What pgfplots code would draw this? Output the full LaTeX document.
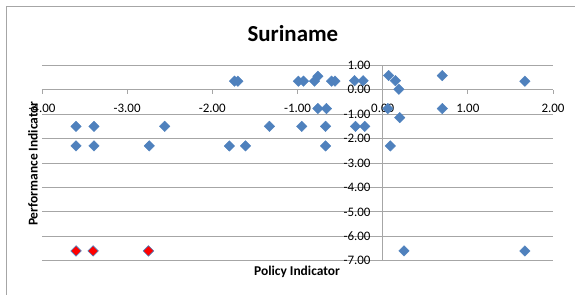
\documentclass[border=0pt]{standalone}
\usepackage{pgfplots}
\pgfplotsset{compat=1.18}
\usepackage{fontspec}
\setmainfont{Carlito}
\definecolor{exblue}{HTML}{4F81BD}
\definecolor{gridgray}{HTML}{A6A6A6}
\begin{document}
\begin{tikzpicture}
\path[use as bounding box] (0,0) rectangle (575bp,295bp);
\clip (0,0) rectangle (575bp,295bp);
\draw[gridgray, line width=1bp] (6bp,-20bp) -- (6bp,288.5bp) -- (600bp,288.5bp);
\begin{axis}[
  scale only axis,
  width=511bp, height=195.4bp,
  anchor=south west, at={(42bp,34.3bp)},
  xmin=-4, xmax=2, ymin=-7, ymax=1,
  axis lines=middle,
  axis line style={-, gridgray, line width=0.8bp},
  xtick={-4,-3,...,2},
  ytick={-7,-6,...,1},
  hide obscured x ticks=false,
  hide obscured y ticks=false,
  tick align=outside,
  major tick length=4bp,
  tick style={gridgray, line width=0.8bp},
  ymajorgrids=true,
  major grid style={gridgray, line width=0.8bp},
  /pgf/number format/.cd, fixed, fixed zerofill, precision=2, assume math mode=true,
  /pgfplots/.cd,
  ticklabel style={font=\fontsize{13}{15}\selectfont, text=black},
  xticklabel style={anchor=center, inner sep=0pt, yshift=-14.5bp},
  yticklabel style={anchor=east, inner sep=0pt, xshift=-8bp},
  every axis title/.style={at={(axis description cs:0.491,1.165)}, anchor=center, font=\bfseries\fontsize{23}{27}\selectfont},
  every axis x label/.style={at={(axis description cs:0.499,-0.058)}, anchor=center, font=\bfseries\fontsize{13.5}{16}\selectfont},
  every axis y label/.style={at={(axis description cs:-0.0176,0.497)}, anchor=center, rotate=90, font=\bfseries\fontsize{13.5}{16}\selectfont},
  title={Suriname},
  xlabel={Policy Indicator},
  ylabel={Performance Indicator},
  clip=false,
]
\addplot[only marks, mark=square*, mark size=3.7bp, mark options={rotate=45, fill=exblue, draw=exblue}] coordinates {
(-1.74,0.35) (-1.70,0.35)
(-0.99,0.35) (-0.93,0.35)
(-0.80,0.35) (-0.76,0.55)
(-0.60,0.35) (-0.56,0.35)
(-0.33,0.37) (-0.23,0.37)
(0.07,0.58) (0.15,0.37) (0.19,0.02)
(0.70,0.58) (1.67,0.35)
(-0.76,-0.77) (-0.66,-0.77) (0.06,-0.77) (0.70,-0.77)
(0.20,-1.14)
(-3.60,-1.5) (-3.39,-1.5) (-2.56,-1.5) (-1.33,-1.5) (-0.95,-1.5) (-0.67,-1.5) (-0.32,-1.5) (-0.21,-1.5)
(-3.60,-2.3) (-3.39,-2.3) (-2.74,-2.3) (-1.80,-2.3) (-1.61,-2.3) (-0.67,-2.3) (0.09,-2.3)
(0.25,-6.6) (1.67,-6.6)
};
\addplot[only marks, mark=square*, mark size=3.7bp, mark options={rotate=45, fill=red, draw=exblue, line width=0.6bp}] coordinates {
(-3.60,-6.6) (-3.40,-6.6) (-2.75,-6.6)
};
\end{axis}
\end{tikzpicture}
\end{document}
